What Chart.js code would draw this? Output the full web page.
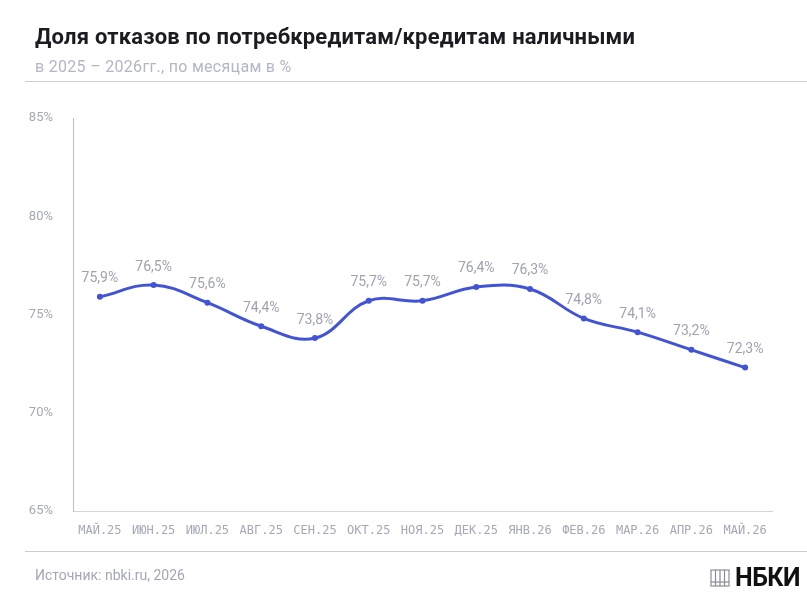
<!DOCTYPE html>
<html>
<head>
<meta charset="utf-8">
<script src="https://cdn.jsdelivr.net/npm/chart.js@4.4.1/dist/chart.umd.min.js"></script>
<style>
  body { margin: 0; background: #fff; font-family: Roboto, "Noto Sans", sans-serif; }
  #wrap { position: relative; width: 807px; height: 596px; overflow: hidden; }
  #chart { position: absolute; left: 0; top: 0; }
  .title { position: absolute; left: 35px; top: 24px; font-size: 22px; font-weight: 700; color: #1b1b22; letter-spacing: 0.2px; }
  .sub { position: absolute; left: 35px; top: 57px; font-size: 16px; color: #b3b6c7; letter-spacing: 0.3px; }
  .rule { position: absolute; left: 25px; right: 0; height: 1px; background: #c9ccda; }
  .src { position: absolute; left: 35px; top: 567px; font-size: 14px; color: #a3a6b6; }
  .logo { position: absolute; left: 710px; top: 563px; display: flex; align-items: center; }
  .logo span { font-size: 25px; font-weight: 700; color: #111; margin-left: 5px; letter-spacing: -0.5px; }
</style>
</head>
<body>
<div id="wrap">
  <canvas id="chart" width="807" height="596"></canvas>
  <div class="title">Доля отказов по потребкредитам/кредитам наличными</div>
  <div class="sub">в 2025 – 2026гг., по месяцам в %</div>
  <div class="rule" style="top:81px"></div>
  <div class="rule" style="top:551px"></div>
  <div class="src">Источник: nbki.ru, 2026</div>
  <div class="logo">
    <svg width="20" height="20" viewBox="0 0 20 20">
      <rect x="1" y="2" width="18" height="16" fill="none" stroke="#8a8d99" stroke-width="1.2"/>
      <line x1="5.5" y1="2" x2="5.5" y2="18" stroke="#8a8d99" stroke-width="1.2"/>
      <line x1="10" y1="2" x2="10" y2="18" stroke="#8a8d99" stroke-width="1.2"/>
      <line x1="14.5" y1="2" x2="14.5" y2="18" stroke="#8a8d99" stroke-width="1.2"/>
      <line x1="1" y1="14" x2="19" y2="14" stroke="#8a8d99" stroke-width="1.2"/>
    </svg>
    <span>НБКИ</span>
  </div>
</div>
<script>
var months = ['МАЙ.25', 'ИЮН.25', 'ИЮЛ.25', 'АВГ.25', 'СЕН.25', 'ОКТ.25', 'НОЯ.25',
              'ДЕК.25', 'ЯНВ.26', 'ФЕВ.26', 'МАР.26', 'АПР.26', 'МАЙ.26'];
var refusalShare = [75.9, 76.5, 75.6, 74.4, 73.8, 75.7, 75.7, 76.4, 76.3, 74.8, 74.1, 73.2, 72.3];
var yTicks = [65, 70, 75, 80, 85];

// value labels above each point
var pointLabels = {
    id: 'pointLabels',
    afterDatasetsDraw: function (chart) {
        var ctx = chart.ctx;
        var meta = chart.getDatasetMeta(0);
        ctx.save();
        ctx.font = '14px Roboto, sans-serif';
        ctx.fillStyle = '#9fa2b4';
        ctx.textAlign = 'center';
        ctx.textBaseline = 'bottom';
        meta.data.forEach(function (pt, i) {
            var txt = refusalShare[i].toFixed(1).replace('.', ',') + '%';
            ctx.fillText(txt, pt.x, pt.y - 11);
        });
        ctx.restore();
    }
};

var ctx = document.getElementById('chart').getContext('2d');
var myChart = new Chart(ctx, {
    type: 'line',
    data: {
        labels: months,
        datasets: [{
            data: refusalShare,
            borderColor: '#4254d6',
            backgroundColor: '#4254d6',
            borderWidth: 3,
            pointRadius: 3,
            pointBorderWidth: 0,
            tension: 0.4,
            fill: false
        }]
    },
    options: {
        responsive: false,
        animation: false,
        layout: { padding: { left: 23, right: 35, top: 118, bottom: 55 } },
        plugins: {
            legend: { display: false },
            tooltip: { enabled: false }
        },
        scales: {
            x: {
                offset: true,
                grid: { display: false },
                border: { display: true, color: '#d3d5de', width: 1 },
                ticks: {
                    color: '#a5a8b8',
                    font: { family: 'DejaVu Sans Mono', size: 12 },
                    maxRotation: 0,
                    autoSkip: false,
                    padding: 5
                },
                afterFit: function (s) { s.height = 30; }
            },
            y: {
                min: 65,
                max: 85,
                grid: { display: false },
                border: { display: true, color: '#b9bcd6', width: 1 },
                afterBuildTicks: function (s) {
                    s.ticks = yTicks.map(function (v) { return { value: v }; });
                },
                ticks: {
                    color: '#a5a8b8',
                    font: { family: 'Roboto', size: 13 },
                    padding: 12,
                    callback: function (v) { return v + '%'; }
                },
                afterFit: function (s) { s.width = 50; }
            }
        }
    },
    plugins: [pointLabels]
});
</script>
</body>
</html>
